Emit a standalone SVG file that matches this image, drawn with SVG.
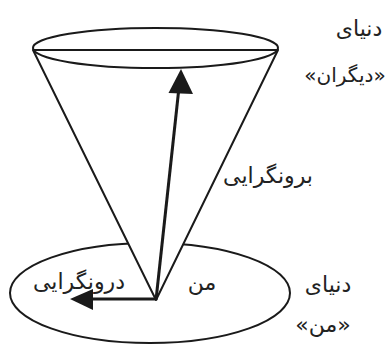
<svg xmlns="http://www.w3.org/2000/svg" width="386" height="350" viewBox="0 0 386 350">
<style>
.ln{fill:none;stroke:#1a1a1a;stroke-width:2}
.ar{fill:none;stroke:#1a1a1a;stroke-width:3}
.t{font-family:"DejaVu Sans","Noto Sans",sans-serif;font-size:22px;fill:#222;text-anchor:middle}
</style>
<rect width="386" height="350" fill="#fff"/>
<g id="bottom-ellipse"><ellipse class="ln" cx="150" cy="293" rx="140" ry="50"/></g>
<g id="cone">
<polygon points="33,50 156,300 278,50" fill="#fff" stroke="#1a1a1a" stroke-width="2" stroke-linejoin="round"/>
</g>
<g id="top-ellipse"><ellipse class="ln" cx="155.5" cy="48" rx="122.5" ry="20"/></g>
<g id="connectors">
<line class="ar" x1="156" y1="300" x2="178.5" y2="92"/>
<polygon points="181,69 168.5,93 193,94" fill="#1a1a1a"/>
<line class="ar" x1="156" y1="299" x2="92" y2="299"/>
<polygon points="70,299 93,289 93,310" fill="#1a1a1a"/>
</g>
<g id="labels">
<text class="t" x="359" y="36">دنیای</text>
<text class="t" x="345" y="82" style="font-size:20px">«دیگران»</text>
<text class="t" x="268" y="183">برونگرایی</text>
<text class="t" x="79" y="289">درونگرایی</text>
<text class="t" x="202" y="290">من</text>
<text class="t" x="328" y="292">دنیای</text>
<text class="t" x="323" y="332">«من»</text>
</g>
</svg>
